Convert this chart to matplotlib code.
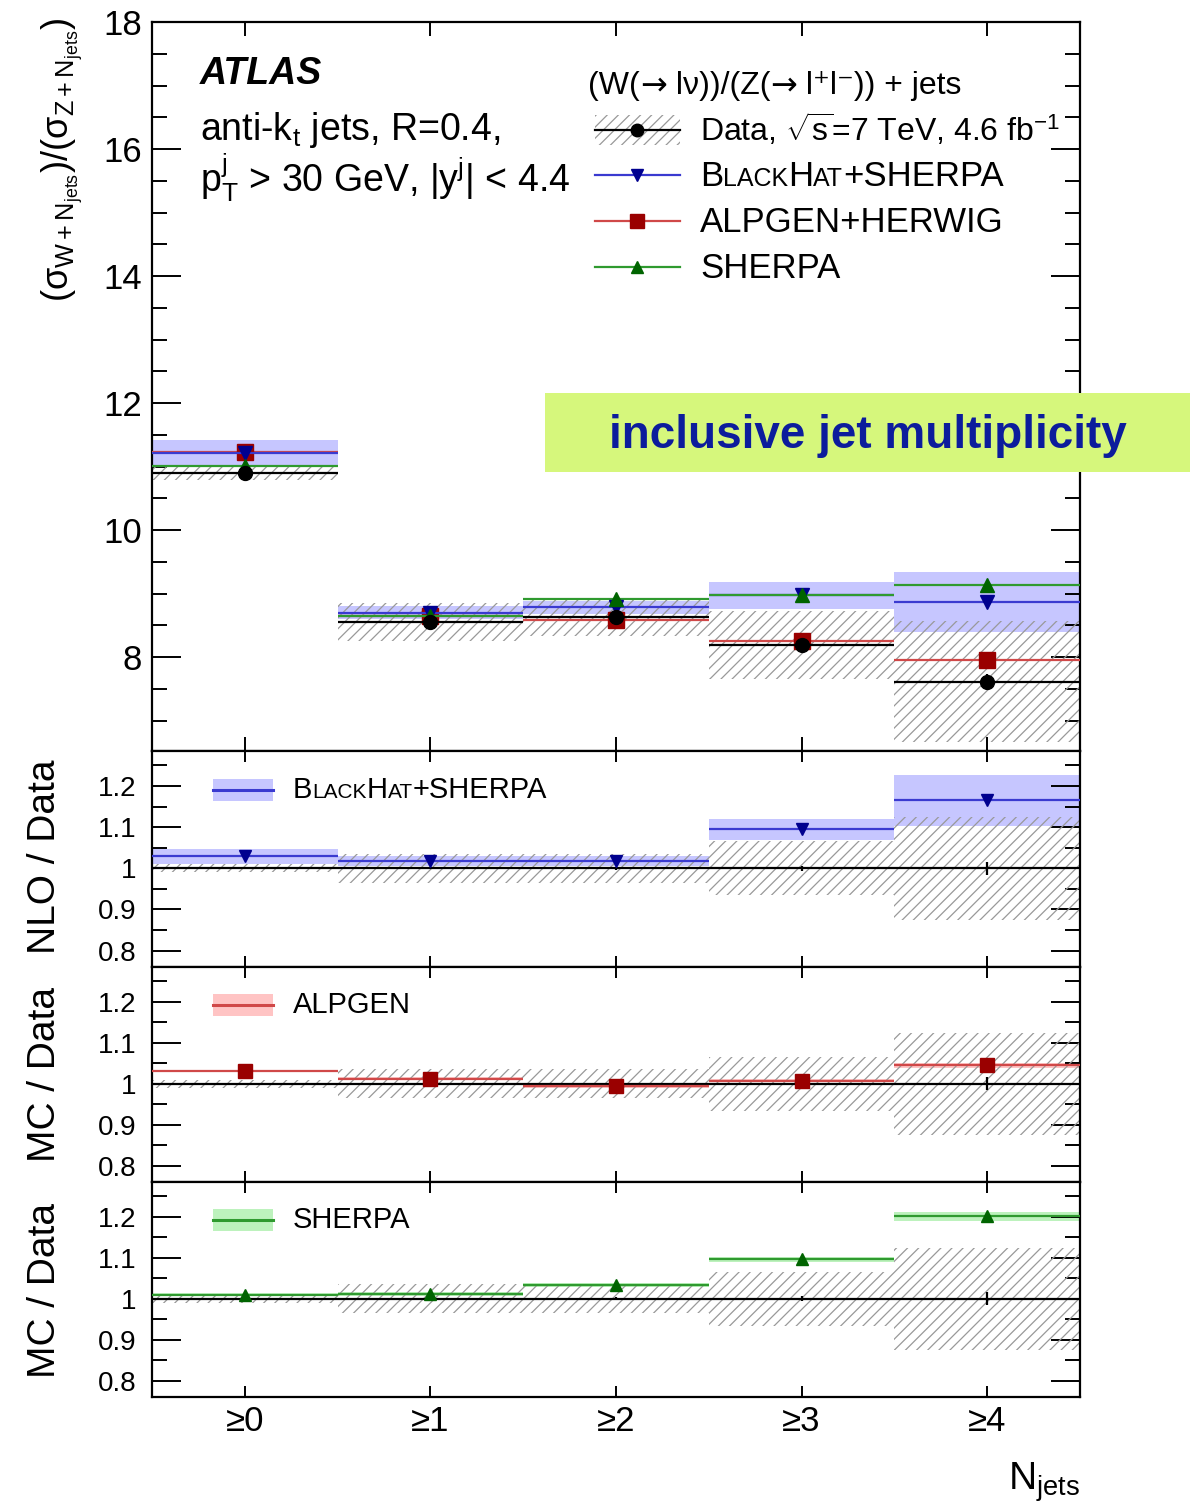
"""
W/Z + jets ratio versus inclusive jet multiplicity, with MC / data panels.
"""
import numpy as np
import matplotlib

matplotlib.use("Agg")
import matplotlib.pyplot as plt
from matplotlib.patches import Rectangle
from matplotlib.lines import Line2D
from matplotlib.ticker import MultipleLocator, FuncFormatter
from matplotlib.transforms import offset_copy

W, H = 1190, 1511  # output size in pixels

# ---------------- data ----------------
njets = np.arange(5)
njet_labels = ["≥0", "≥1", "≥2", "≥3", "≥4"]

data = np.array([10.90, 8.55, 8.63, 8.19, 7.61])
data_stat = np.array([0.02, 0.02, 0.03, 0.05, 0.12])
data_syst = np.array([0.11, 0.30, 0.30, 0.54, 0.95])

blackhat = np.array([11.22, 8.70, 8.78, 8.97, 8.87])
blackhat_err = np.array([0.20, 0.10, 0.10, 0.21, 0.47])

alpgen = np.array([11.23, 8.65, 8.58, 8.25, 7.95])
alpgen_err = np.array([0.03, 0.03, 0.03, 0.03, 0.04])

sherpa = np.array([11.01, 8.64, 8.92, 8.98, 9.14])
sherpa_err = np.array([0.05, 0.04, 0.04, 0.05, 0.09])

# ---------------- style ----------------
plt.rcParams["font.family"] = ["Liberation Sans", "DejaVu Sans"]
plt.rcParams["mathtext.fontset"] = "custom"
plt.rcParams["mathtext.rm"] = "Liberation Sans"
plt.rcParams["mathtext.it"] = "Liberation Sans:italic"
plt.rcParams["mathtext.bf"] = "Liberation Sans:bold"
plt.rcParams["hatch.linewidth"] = 0.9
plt.rcParams["axes.linewidth"] = 1.6

HATCH_C = "#999999"
HATCH = "///"
BH_LINE, BH_MARK, BH_BAND = "#3a3ad0", "#00008f", "#c6c6ff"
AL_LINE, AL_MARK, AL_BAND = "#d04848", "#9a0000", "#ffc4c4"
SH_LINE, SH_MARK, SH_BAND = "#2f9a2f", "#006400", "#bdf2bd"


def fx(x):
    return x / W


def fy(y):
    return 1 - y / H


def text_run(fig, x, y, pieces, **kw):
    """Draw text pieces one after another on a common baseline (pixels).
    Each piece is (text, fontsize) or (text, fontsize, family)."""
    renderer = fig.canvas.get_renderer()
    dx = 0.0
    for piece in pieces:
        s, size = piece[0], piece[1]
        extra = dict(kw)
        if len(piece) > 2:
            extra["family"] = piece[2]
        tr = offset_copy(fig.transFigure, fig=fig, x=dx, y=0, units="dots")
        t = fig.text(fx(x), fy(y), s, fontsize=size, transform=tr,
                     ha="left", va="baseline", **extra)
        dx += t.get_window_extent(renderer).width


def style_axis(ax, ratio=False):
    ax.tick_params(which="both", direction="in", top=True, right=True)
    ax.tick_params(axis="y", which="major", length=21, width=1.4)
    ax.tick_params(axis="y", which="minor", length=11, width=1.4)
    ax.tick_params(axis="x", which="major", length=8 if ratio else 10, width=1.4)
    ax.set_xlim(-0.5, 4.5)
    ax.set_xticks(njets)


fig = plt.figure(figsize=(W / 100, H / 100), dpi=100)

left, right = fx(152), fx(1080)
edges = [22, 751, 967, 1182, 1397]
ax_main = fig.add_axes([left, fy(edges[1]), right - left, fy(edges[0]) - fy(edges[1])])
ratio_axes = []
for i in range(1, 4):
    ratio_axes.append(fig.add_axes([left, fy(edges[i + 1]), right - left,
                                    fy(edges[i]) - fy(edges[i + 1])]))

# ---------------- main panel ----------------
ax = ax_main
ax.bar(njets, 2 * blackhat_err, bottom=blackhat - blackhat_err, width=1.0,
       color=BH_BAND, linewidth=0, zorder=1)
ax.bar(njets, 2 * data_syst, bottom=data - data_syst, width=1.0,
       facecolor="none", edgecolor=HATCH_C, hatch=HATCH, linewidth=0, zorder=2)
ax.errorbar(njets, data, xerr=0.5, yerr=data_stat, fmt="o", color="k",
            ms=10, lw=1.6, zorder=6)
ax.errorbar(njets, alpgen, xerr=0.5, yerr=alpgen_err, fmt="s", color=AL_MARK,
            ecolor=AL_LINE, ms=11, lw=1.6, zorder=4)
ax.errorbar(njets, blackhat, xerr=0.5, yerr=0.03, fmt="v", color=BH_MARK,
            ecolor=BH_LINE, ms=10, lw=1.6, zorder=5)
ax.errorbar(njets, sherpa, xerr=0.5, yerr=0.03, fmt="^", color=SH_MARK,
            ecolor=SH_LINE, ms=10, lw=1.6, zorder=5)
style_axis(ax)
ax.set_ylim(6.52, 18)
ax.yaxis.set_major_locator(MultipleLocator(2))
ax.yaxis.set_minor_locator(MultipleLocator(0.5))
ax.tick_params(axis="y", labelsize=25, pad=7)
ax.set_xticklabels([])

# ---------------- ratio panels ----------------
models = [
    (blackhat, blackhat_err, "v", BH_LINE, BH_MARK, BH_BAND, 9),
    (alpgen, alpgen_err, "s", AL_LINE, AL_MARK, AL_BAND, 10),
    (sherpa, sherpa_err, "^", SH_LINE, SH_MARK, SH_BAND, 9),
]
for ax, (vals, errs, mk, lc, mc, bc, ms) in zip(ratio_axes, models):
    r = vals / data
    rerr = errs / data
    ax.bar(njets, 2 * rerr, bottom=r - rerr, width=1.0, color=bc,
           linewidth=0, zorder=1)
    ax.bar(njets, 2 * data_syst / data, bottom=1 - data_syst / data, width=1.0,
           facecolor="none", edgecolor=HATCH_C, hatch=HATCH, linewidth=0, zorder=2)
    ax.errorbar(njets, np.ones(5), xerr=0.5, yerr=data_stat / data, fmt="none",
                ecolor="k", lw=1.6, zorder=3)
    ax.errorbar(njets, r, xerr=0.5, fmt=mk, color=mc, ecolor=lc, ms=ms,
                lw=1.6, zorder=4)
    style_axis(ax, ratio=True)
    ax.set_ylim(0.76, 1.285)
    ax.yaxis.set_major_locator(MultipleLocator(0.1))
    ax.yaxis.set_minor_locator(MultipleLocator(0.05))
    ax.yaxis.set_major_formatter(FuncFormatter(lambda v, p: f"{v:g}"))
    ax.tick_params(axis="y", labelsize=20, pad=11)
    ax.set_xticklabels([])

ratio_axes[-1].set_xticklabels(njet_labels)
ratio_axes[-1].tick_params(axis="x", labelsize=25, pad=6)

# ---------------- texts of the main panel ----------------
fig.text(fx(200), fy(84), "ATLAS", fontsize=27, fontweight="bold",
         fontstyle="italic", va="baseline")
fig.text(fx(200), fy(140), r"anti-k$_{\mathregular{t}}$ jets, R=0.4,",
         fontsize=27, va="baseline")
fig.text(fx(200), fy(192),
         r"p$_{\mathregular{T}}^{\mathregular{j}}$ > 30 GeV, |y$^{\mathregular{j}}$| < 4.4",
         fontsize=27, va="baseline")

fig.text(fx(62), fy(18), r"$\mathregular{(\sigma_{W+N_{jets}})/(\sigma_{Z+N_{jets}})}$",
         fontsize=26, rotation=90, ha="center", va="top")

# legend of the main panel
text_run(fig, 588, 94, [("(W(", 23), ("\u2192", 23, "DejaVu Sans"),
                        (" lν))/(Z(", 23), ("\u2192", 23, "DejaVu Sans"),
                        (" l⁺l⁻)) + jets", 23)])
fig.patches.append(Rectangle((fx(595), fy(145)), fx(85), 30 / H,
                             transform=fig.transFigure, facecolor="none",
                             edgecolor=HATCH_C, hatch=HATCH, linewidth=0))
rows = [
    (130, "k", "k", "o", 9),
    (175, BH_LINE, BH_MARK, "v", 9),
    (221, AL_LINE, AL_MARK, "s", 10),
    (267, SH_LINE, SH_MARK, "^", 9),
]
for y, lc, mc, mk, ms in rows:
    fig.add_artist(Line2D([fx(595), fx(680)], [fy(y), fy(y)], color=lc, lw=1.6,
                          transform=fig.transFigure))
    fig.add_artist(Line2D([fx(637)], [fy(y)], marker=mk, color=mc, ms=ms,
                          transform=fig.transFigure))
fig.text(fx(700), fy(141),
         r"Data, $\mathregular{\sqrt{s}}$=7 TeV, 4.6 fb$^{\mathregular{-1}}$",
         fontsize=23, va="baseline")
text_run(fig, 700, 186, [("B", 25), ("LACK", 18), ("H", 25), ("AT", 18),
                         ("+SHERPA", 25)])
fig.text(fx(700), fy(232), "ALPGEN+HERWIG", fontsize=25, va="baseline")
fig.text(fx(700), fy(278), "SHERPA", fontsize=25, va="baseline")

# ---------------- legends of the ratio panels ----------------
for yc, lc, bc, pieces in [
    (790, BH_LINE, BH_BAND, [("B", 21), ("LACK", 15), ("H", 21), ("AT", 15),
                             ("+SHERPA", 21)]),
    (1005, AL_LINE, AL_BAND, [("ALPGEN", 21)]),
    (1220, SH_LINE, SH_BAND, [("SHERPA", 21)]),
]:
    fig.patches.append(Rectangle((fx(213), fy(yc + 11)), fx(60), 22 / H,
                                 transform=fig.transFigure, facecolor=bc,
                                 linewidth=0))
    fig.add_artist(Line2D([fx(213), fx(273)], [fy(yc), fy(yc)], color=lc,
                          lw=2.2, transform=fig.transFigure))
    text_run(fig, 293, yc + 8, pieces)

fig.text(fx(45), fy(857), "NLO / Data", fontsize=28, rotation=90,
         ha="center", va="center")
fig.text(fx(45), fy(1074), "MC / Data", fontsize=28, rotation=90,
         ha="center", va="center")
fig.text(fx(45), fy(1290), "MC / Data", fontsize=28, rotation=90,
         ha="center", va="center")

fig.text(fx(1080), fy(1460), r"N$_{\mathregular{jets}}$", fontsize=28,
         ha="right", va="top")

# ---------------- highlight box ----------------
fig.patches.append(Rectangle((fx(545), fy(472)), fx(1190 - 545), 79 / H,
                             transform=fig.transFigure, facecolor="#d6f77c",
                             linewidth=0, zorder=2))
fig.text(fx(868), fy(436), "inclusive jet multiplicity", fontsize=33,
         fontweight="bold", color="#0c1c9c", ha="center", va="center", zorder=3)

fig.savefig("out.png", dpi=100)
